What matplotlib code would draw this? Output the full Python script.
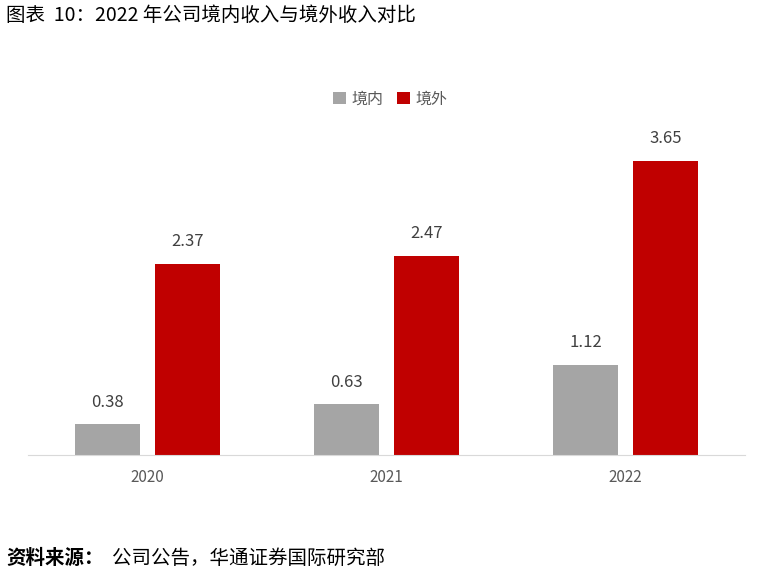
import matplotlib.pyplot as plt
import numpy as np

plt.rcParams['font.family'] = ['Noto Sans CJK SC', 'DejaVu Sans']

years = ['2020', '2021', '2022']
domestic = [0.38, 0.63, 1.12]
overseas = [2.37, 2.47, 3.65]

fig = plt.figure(figsize=(7.73, 5.76), dpi=100)
ax = fig.add_axes([0.036, 0.210, 0.9276, 0.634])
x = np.arange(len(years))
w = 0.27
b1 = ax.bar(x - 0.167, domestic, w, color='#A5A5A5', label='境内')
b2 = ax.bar(x + 0.167, overseas, w, color='#C00000', label='境外')
for bars in (b1, b2):
    for r in bars:
        ax.text(r.get_x() + r.get_width() / 2, r.get_height() + 0.17, f'{r.get_height():.2f}',
                ha='center', va='bottom', fontsize=12, color='#404040')

ax.set_xlim(-0.5, 2.5)
ax.set_ylim(0, 4.53)
ax.set_xticks(x, years)
ax.tick_params(axis='x', length=0, labelsize=11, labelcolor='#595959', pad=10)
ax.set_yticks([])
for s in ['top', 'right', 'left']:
    ax.spines[s].set_visible(False)
ax.spines['bottom'].set_color('#D9D9D9')

fig.legend(loc='center', bbox_to_anchor=(0.505, 0.828), ncol=2, frameon=False,
           fontsize=11.5, labelcolor='#595959', handlelength=0.8, handleheight=0.8,
           columnspacing=0.8, handletextpad=0.4)

fig.text(0.008, 0.973, '图表  10：2022 年公司境内收入与境外收入对比', fontsize=14, va='center')
fig.text(0.008, 0.031, '资料来源：', fontsize=14, va='center', fontweight='bold')
fig.text(0.145, 0.031, '公司公告，华通证券国际研究部', fontsize=14, va='center')

fig.savefig('out.png', dpi=100)
